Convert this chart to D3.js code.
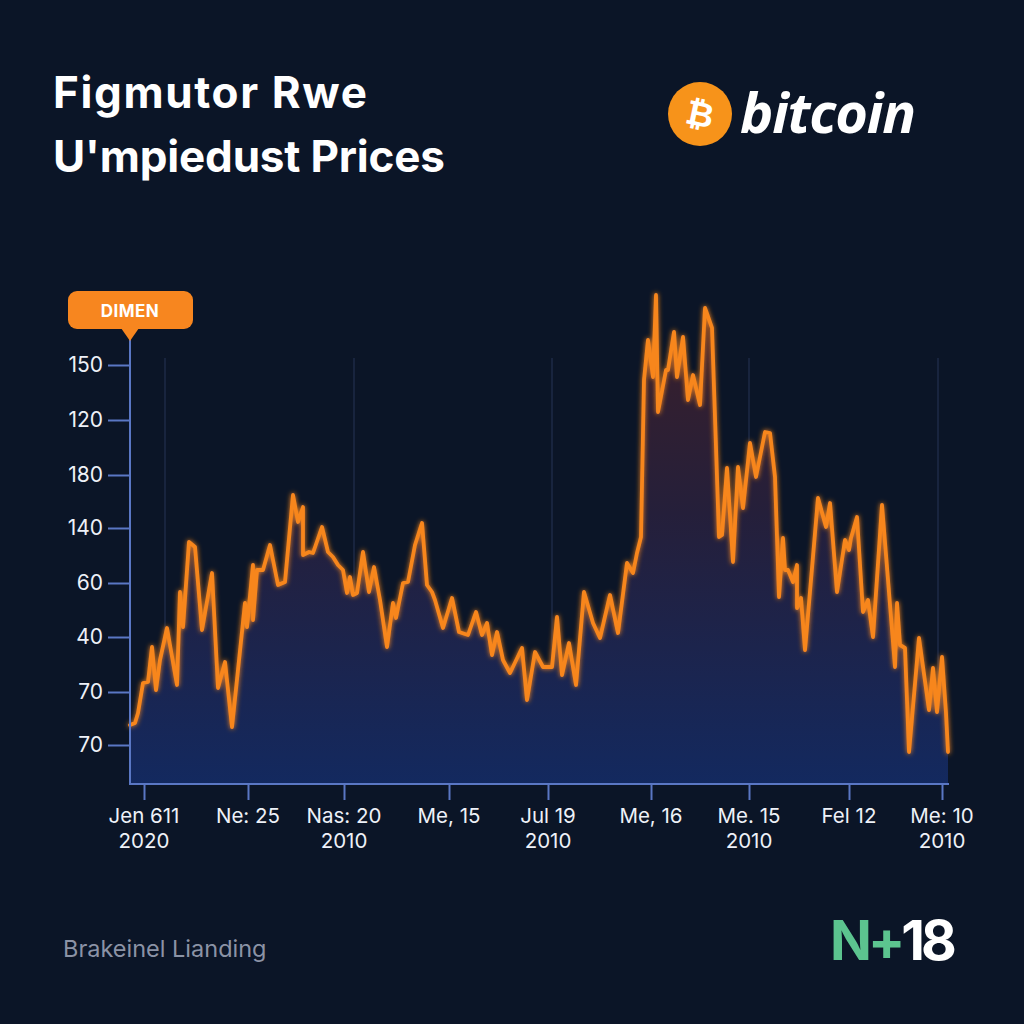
<!DOCTYPE html>
<html>
<head>
<meta charset="utf-8">
<script src="https://cdn.jsdelivr.net/npm/d3@7/dist/d3.min.js"></script>
<style>
  html, body { margin: 0; padding: 0; background: #0b1527; }
  svg { display: block; }
</style>
</head>
<body>
<svg id="chart" width="1024" height="1024"></svg>
<script>
// ---- data ----
const days = [0,5,8,13,18,22,26,30,37,47,50,53,59,65,72,82,88,95,102,108,115,117,123,123,127,133,140,148,155,163,168,173,173,179,183,192,198,203,208,213,217,220,223,227,233,239,244,250,257,263,266,273,278,285,292,297,302,305,313,322,329,338,346,352,357,362,367,373,380,392,397,405,413,422,427,432,439,446,454,463,470,480,488,497,503,507,511,514,518,523,526,528,536,538,544,547,553,558,563,570,575,582,586,589,592,597,603,608,613,620,626,635,640,645,649,653,655,658,663,667,667,671,675,688,696,700,707,715,719,721,727,733,738,743,752,765,767,770,775,779,789,799,803,807,812,816,818];
const prices = [59,61,71,101,102,137,94,124,156,99,192,157,242,237,154,211,96,122,57,114,181,157,219,164,214,214,239,199,202,289,262,277,229,232,231,257,232,227,219,214,191,207,189,191,232,192,217,184,137,181,166,201,202,239,261,199,192,184,156,186,152,149,172,149,161,129,152,124,111,136,84,132,117,117,167,109,141,99,192,161,146,189,151,221,211,231,247,404,444,407,489,372,414,414,452,407,447,384,409,379,476,456,337,247,249,316,222,317,276,341,307,352,351,307,187,246,214,214,202,219,176,186,134,286,257,281,192,244,234,246,267,172,184,147,279,117,181,139,136,32,146,74,116,72,127,71,32];

const yTickValues = [419,364,309,256,201,147,92,39];
const yTickLabels = ["150","120","180","140","60","40","70","70"];

const xTickDays = [14,118,214,319,418,521,619,719,812];
const xTickLabels = [["Jen 611","2020"],["Ne: 25"],["Nas: 20","2010"],["Me, 15"],["Jul 19","2010"],["Me, 16"],["Me. 15","2010"],["Fel 12"],["Me: 10","2010"]];
const gridDays = [35,224,422,619,808];

const titleLines = ["Figmutor Rwe","U'mpiedust Prices"];
const badgeText = "DIMEN";
const footerText = "Brakeinel Lianding";

// ---- layout ----
const series = d3.zip(days, prices);
const svg = d3.select("#chart");
const W = 1024, H = 1024;
const plotLeft = 130, plotRight = 948, plotBottom = 784, plotTop = 284;

svg.append("rect").attr("width", W).attr("height", H).attr("fill", "#0b1527");

const x = d3.scaleLinear().domain([0, 818]).range([plotLeft, plotRight]);
const y = d3.scaleLinear().domain([0, 500]).range([plotBottom, plotTop]);

const defs = svg.append("defs");
const grad = defs.append("linearGradient").attr("id", "areaGrad")
  .attr("gradientUnits", "userSpaceOnUse").attr("x1", 0).attr("y1", 290).attr("x2", 0).attr("y2", plotBottom);
grad.append("stop").attr("offset", "0%").attr("stop-color", "#3d1f28");
grad.append("stop").attr("offset", "45%").attr("stop-color", "#251f3a");
grad.append("stop").attr("offset", "100%").attr("stop-color", "#13295f");

const glow = defs.append("filter").attr("id", "glow").attr("x", "-5%").attr("y", "-5%").attr("width", "110%").attr("height", "110%");
glow.append("feGaussianBlur").attr("stdDeviation", 2.5).attr("result", "b");
const fm = glow.append("feMerge");
fm.append("feMergeNode").attr("in", "b");
fm.append("feMergeNode").attr("in", "SourceGraphic");

// title
const titleWidths = [314, 392];
svg.append("g").selectAll("text").data(titleLines).join("text")
  .attr("x", 53).attr("y", (d, i) => 108 + i * 64)
  .attr("fill", "#ffffff").attr("font-family", "Inter, 'Open Sans', sans-serif")
  .attr("font-weight", 700).attr("font-size", 44)
  .attr("textLength", (d, i) => titleWidths[i]).attr("lengthAdjust", "spacing")
  .text(d => d);

// bitcoin logo
const logo = svg.append("g");
logo.append("circle").attr("cx", 700).attr("cy", 114).attr("r", 32).attr("fill", "#f7931a");
logo.append("text").attr("x", 700).attr("y", 126).attr("text-anchor", "middle")
  .attr("fill", "#fff").attr("font-family", "'DejaVu Sans', sans-serif").attr("font-weight", 700)
  .attr("font-size", 34).attr("transform", "rotate(12,700,114)").text("\u20BF");
logo.append("text").attr("x", 740).attr("y", 133).attr("fill", "#fff")
  .attr("font-family", "'Open Sans', sans-serif").attr("font-weight", 700).attr("font-style", "italic")
  .attr("font-size", 56).attr("letter-spacing", -1.2).text("bitcoin");

// gridlines
svg.append("g").selectAll("line").data(gridDays).join("line")
  .attr("x1", d => x(d)).attr("x2", d => x(d)).attr("y1", 358).attr("y2", plotBottom)
  .attr("stroke", "#22304f").attr("stroke-width", 1.2);

// area + line
const area = d3.area().x(d => x(d[0])).y0(plotBottom).y1(d => y(d[1])).curve(d3.curveLinear);
const line = d3.line().x(d => x(d[0])).y(d => y(d[1])).curve(d3.curveLinear);

svg.append("path").datum(series).attr("d", area).attr("fill", "url(#areaGrad)");
svg.append("path").datum(series).attr("d", line).attr("fill", "none")
  .attr("stroke", "#f7861f").attr("stroke-width", 3.8).attr("stroke-linejoin", "round")
  .attr("stroke-linecap", "round").attr("filter", "url(#glow)");

// y axis
const axisColor = "#5a77c4";
const yAxis = d3.axisLeft(y).tickValues(yTickValues).tickSize(22).tickPadding(5)
  .tickFormat((d, i) => yTickLabels[i]);
const yg = svg.append("g").attr("transform", `translate(${plotLeft},0)`).call(yAxis);
yg.select(".domain").remove();
yg.selectAll(".tick line").attr("stroke", axisColor).attr("stroke-width", 2);
yg.selectAll(".tick text").attr("fill", "#eef1f8").attr("font-size", 21)
  .attr("font-family", "Inter, 'Open Sans', sans-serif");
svg.append("line").attr("x1", plotLeft).attr("x2", plotLeft).attr("y1", 338).attr("y2", plotBottom + 1)
  .attr("stroke", axisColor).attr("stroke-width", 2);

// x axis
const xAxis = d3.axisBottom(x).tickValues(xTickDays).tickSize(16).tickFormat("");
const xg = svg.append("g").attr("transform", `translate(0,${plotBottom})`).call(xAxis);
xg.select(".domain").remove();
xg.selectAll(".tick line").attr("stroke", axisColor).attr("stroke-width", 2);
svg.append("line").attr("x1", plotLeft - 1).attr("x2", plotRight + 1).attr("y1", plotBottom).attr("y2", plotBottom)
  .attr("stroke", axisColor).attr("stroke-width", 2);

const xl = svg.append("g").selectAll("text").data(xTickDays).join("text")
  .attr("x", d => x(d)).attr("y", 823).attr("text-anchor", "middle")
  .attr("fill", "#eef1f8").attr("font-size", 20.5).attr("font-family", "Inter, 'Open Sans', sans-serif");
xl.each(function(d, i) {
  const t = d3.select(this);
  xTickLabels[i].forEach((s, j) => {
    t.append("tspan").attr("x", x(d)).attr("dy", j === 0 ? 0 : 25).text(s);
  });
});

// badge
const badge = svg.append("g");
badge.append("rect").attr("x", 68).attr("y", 291).attr("width", 125).attr("height", 38).attr("rx", 9)
  .attr("fill", "#f7861f");
badge.append("path").attr("d", "M121,328 L130,341 L139,328 Z").attr("fill", "#f7861f");
badge.append("text").attr("x", 130).attr("y", 317).attr("text-anchor", "middle").attr("fill", "#fff")
  .attr("font-family", "Inter, 'Open Sans', sans-serif").attr("font-weight", 700).attr("font-size", 17)
  .attr("letter-spacing", 0.5).text(badgeText);

// footer
svg.append("text").attr("x", 63).attr("y", 957).attr("fill", "#8b93a6")
  .attr("font-family", "Inter, 'Open Sans', sans-serif").attr("font-size", 23.5).text(footerText);
const brand = svg.append("text").attr("x", 830).attr("y", 960)
  .attr("font-family", "Inter, 'Open Sans', sans-serif").attr("font-weight", 700).attr("font-size", 55)
  .attr("letter-spacing", -4);
brand.append("tspan").attr("fill", "#5cc48f").text("N");
brand.append("tspan").attr("fill", "#5cc48f").text("+");
brand.append("tspan").attr("fill", "#ffffff").text("18");
</script>
</body>
</html>
